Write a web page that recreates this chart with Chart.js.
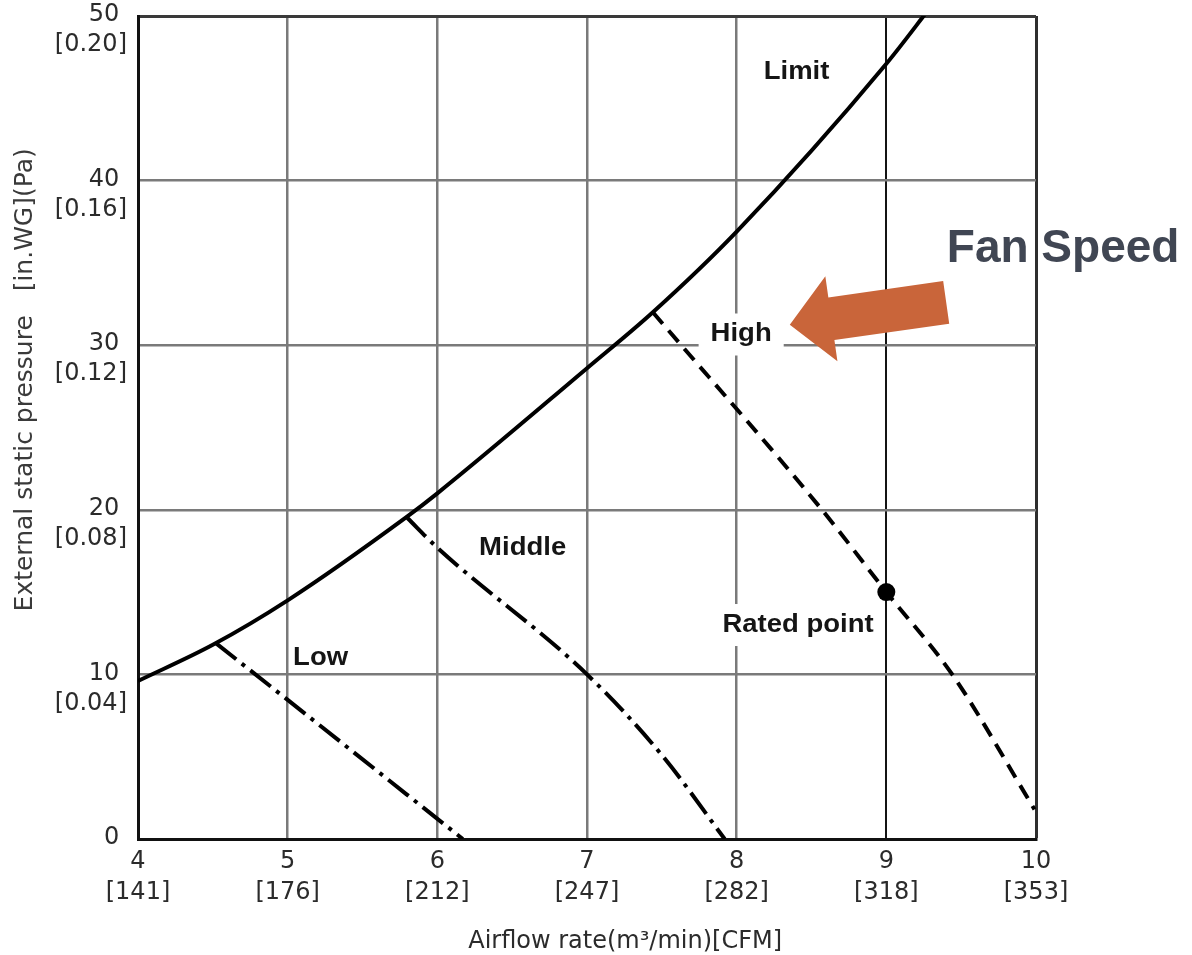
<!DOCTYPE html>
<html>
<head>
<meta charset="utf-8">
<script src="https://cdn.jsdelivr.net/npm/chart.js@4.4.1/dist/chart.umd.min.js"></script>
<style>
  html, body { margin: 0; padding: 0; background: #fff; }
  canvas { display: block; }
</style>
</head>
<body>
<canvas id="fanChart" width="1192" height="955"></canvas>
<script>
// Airflow axis: m³/min with CFM equivalents
const flowTicks = [4, 5, 6, 7, 8, 9, 10];
const flowCFM = ['[141]', '[176]', '[212]', '[247]', '[282]', '[318]', '[353]'];

// Pressure axis: Pa with in.WG equivalents
const pressureTicks = [0, 10, 20, 30, 40, 50];
const pressureInWG = ['', '[0.04]', '[0.08]', '[0.12]', '[0.16]', '[0.20]'];

// Operating limit curve
const limitFlow     = [4.0, 4.5, 5.0, 5.8, 6.0, 7.0, 7.44, 8.0, 9.0, 9.3];
const limitPressure = [9.6, 11.8, 14.5, 19.6, 21.0, 28.6, 32.0, 36.9, 47.1, 50.6];

// Fan speed curves
const lowFlow        = [4.52, 5.0, 6.17];
const lowPressure    = [11.9, 8.45, 0];
const middleFlow     = [5.8, 6.0, 7.0, 7.5, 7.92];
const middlePressure = [19.5, 17.7, 10.0, 5.1, 0];
const highFlow       = [7.44, 8.57, 9.0, 9.44, 9.99];
const highPressure   = [32.0, 20.0, 15.0, 10.0, 1.8];

// Rated operating point
const ratedFlow     = [9.0];
const ratedPressure = [15.0];

const toPoints = (xs, ys) => xs.map((x, i) => ({ x, y: ys[i] }));

// Text placed on the chart, anchored in axis units
const curveLabels = [
  { text: 'Limit',       flow: 8.40, pressure: 46.6, box: 0 },
  { text: 'High',        flow: 8.03, pressure: 30.65, box: 12 },
  { text: 'Middle',      flow: 6.57, pressure: 17.7, box: 0 },
  { text: 'Low',         flow: 5.22, pressure: 11.0, box: 0 },
  { text: 'Rated point', flow: 8.41, pressure: 13.0, box: 4 }
];
const callout = { text: 'Fan Speed', flow: 9.404, pressure: 35.85,
                  tipFlow: 8.355, tipPressure: 31.25, tailFlow: 9.40, tailPressure: 32.6 };

const notesPlugin = {
  id: 'notes',
  afterDatasetsDraw(chart) {
    const { ctx, scales: { x, y } } = chart;
    ctx.save();
    ctx.textBaseline = 'middle';
    ctx.textAlign = 'center';
    ctx.font = 'bold 25px "Liberation Sans", Arial, sans-serif';
    curveLabels.forEach(l => {
      const px = x.getPixelForValue(l.flow);
      const py = y.getPixelForValue(l.pressure);
      const w = ctx.measureText(l.text).width * 1.1;
      if (l.box) {
        ctx.fillStyle = '#fff';
        ctx.fillRect(px - w / 2 - l.box, py - 21, w + 2 * l.box, 42);
      }
      ctx.save();
      ctx.translate(px, py);
      ctx.scale(1.1, 1);
      ctx.fillStyle = '#151515';
      ctx.fillText(l.text, 0, 0);
      ctx.restore();
    });

    // Arrow pointing at the fan speed curves
    const tx = x.getPixelForValue(callout.tipFlow), ty = y.getPixelForValue(callout.tipPressure);
    const bx = x.getPixelForValue(callout.tailFlow), by = y.getPixelForValue(callout.tailPressure);
    const len = Math.hypot(tx - bx, ty - by);
    const ux = (tx - bx) / len, uy = (ty - by) / len;
    const nx = -uy, ny = ux;
    const shaft = 21.5, head = 43, headLen = 42;
    const mx = tx - ux * headLen, my = ty - uy * headLen;
    ctx.fillStyle = '#c9653a';
    ctx.beginPath();
    ctx.moveTo(bx + nx * shaft, by + ny * shaft);
    ctx.lineTo(mx + nx * shaft, my + ny * shaft);
    ctx.lineTo(mx + nx * head, my + ny * head);
    ctx.lineTo(tx, ty);
    ctx.lineTo(mx - nx * head, my - ny * head);
    ctx.lineTo(mx - nx * shaft, my - ny * shaft);
    ctx.lineTo(bx - nx * shaft, by - ny * shaft);
    ctx.closePath();
    ctx.fill();

    ctx.font = 'bold 46px "Liberation Sans", Arial, sans-serif';
    ctx.textAlign = 'left';
    ctx.fillStyle = '#404653';
    ctx.fillText(callout.text, x.getPixelForValue(callout.flow), y.getPixelForValue(callout.pressure));
    ctx.restore();
  }
};

const tickFont = { family: '"DejaVu Sans", sans-serif', size: 24 };

new Chart(document.getElementById('fanChart'), {
  type: 'line',
  data: {
    datasets: [
      { label: 'Limit', data: toPoints(limitFlow, limitPressure), borderColor: '#000', borderWidth: 4,
        pointRadius: 0, cubicInterpolationMode: 'monotone', fill: false },
      { label: 'Low', data: toPoints(lowFlow, lowPressure), borderColor: '#000', borderWidth: 4,
        borderDash: [26, 7, 4, 7], pointRadius: 0, cubicInterpolationMode: 'monotone', fill: false },
      { label: 'Middle', data: toPoints(middleFlow, middlePressure), borderColor: '#000', borderWidth: 4,
        borderDash: [26, 7, 4, 7], pointRadius: 0, cubicInterpolationMode: 'monotone', fill: false },
      { label: 'High', data: toPoints(highFlow, highPressure), borderColor: '#000', borderWidth: 4,
        borderDash: [15, 9], pointRadius: 0, cubicInterpolationMode: 'monotone', fill: false },
      { label: 'Rated point', data: toPoints(ratedFlow, ratedPressure), showLine: false,
        pointRadius: 9, pointBackgroundColor: '#000', pointBorderWidth: 0 }
    ]
  },
  options: {
    responsive: false,
    animation: false,
    devicePixelRatio: 1,
    layout: { padding: { left: 0, right: 156, top: 16, bottom: 0 } },
    plugins: { legend: { display: false }, tooltip: { enabled: false } },
    scales: {
      x: {
        type: 'linear', min: 4, max: 10,
        afterBuildTicks: s => { s.ticks = flowTicks.map(v => ({ value: v })); },
        afterFit: s => { s.height = 116; s.paddingLeft = 0; s.paddingRight = 0; },
        ticks: {
          autoSkip: false, maxRotation: 0, padding: 7, color: '#2b2b2b',
          font: Object.assign({ lineHeight: 1.3 }, tickFont),
          callback: v => [String(v), flowCFM[flowTicks.indexOf(v)]]
        },
        grid: {
          drawTicks: false,
          color: c => c.tick.value === 9 ? '#141414' : (c.tick.value === 10 ? '#2e2e2e' : '#7a7a7a'),
          lineWidth: c => c.tick.value === 9 ? 2 : (c.tick.value === 10 ? 3 : 2.5)
        },
        border: { color: '#111', width: 3 },
        title: {
          display: true, text: '          Airflow rate(m³/min)[CFM]', color: '#2b2b2b',
          font: { family: '"DejaVu Sans", sans-serif', size: 24, lineHeight: 1 },
          padding: { top: 0, bottom: 1 }
        }
      },
      y: {
        type: 'linear', min: 0, max: 50,
        afterBuildTicks: s => { s.ticks = pressureTicks.map(v => ({ value: v })); },
        afterFit: s => { s.width = 138; s.paddingTop = 0; s.paddingBottom = 0; },
        ticks: {
          autoSkip: false, padding: 11, labelOffset: 14, color: '#2b2b2b',
          font: Object.assign({ lineHeight: 1.25 }, tickFont),
          callback: v => [String(v) + ' ', pressureInWG[pressureTicks.indexOf(v)]]
        },
        grid: {
          drawTicks: false,
          color: c => c.tick.value === 50 ? '#3a3a3a' : '#7a7a7a',
          lineWidth: c => c.tick.value === 50 ? 3 : 2.5
        },
        border: { color: '#111', width: 3 },
        title: {
          display: true,
          text: '            External static pressure   [in.WG](Pa)',
          color: '#3a3a3a',
          font: { family: '"DejaVu Sans", sans-serif', size: 25, lineHeight: 1.2 },
          padding: { top: 10, bottom: 0 }
        }
      }
    }
  },
  plugins: [notesPlugin]
});
</script>
</body>
</html>
